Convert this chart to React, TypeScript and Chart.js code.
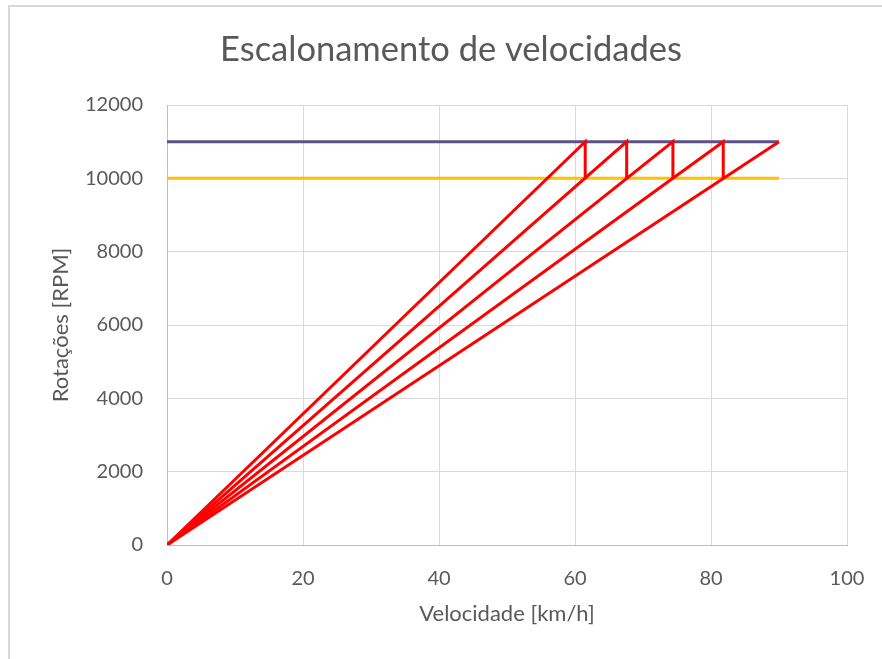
import React, { useEffect, useRef } from "react";
import { Chart, registerables } from "chart.js";

Chart.register(...registerables);

// Data
const gearSpeeds: number[] = [61.5, 67.6, 74.4, 81.8, 90]; // km/h at which each gear reaches max RPM
const maxRpm = 11000;
const shiftRpm = 10000;
const limitStart = 0;
const limitEnd = 90;
const xTicks: number[] = [0, 20, 40, 60, 80, 100];
const yTicks: number[] = [0, 2000, 4000, 6000, 8000, 10000, 12000];

const FONT = "Lato, 'Open Sans', sans-serif";
const TEXT = "#595959";

export default function App() {
  const ref = useRef<HTMLCanvasElement | null>(null);

  useEffect(() => {
    if (!ref.current) return;

    const redSets = gearSpeeds.map((v, i) => {
      const pts = [
        { x: 0, y: 0 },
        { x: v, y: maxRpm },
      ];
      if (i < gearSpeeds.length - 1) pts.push({ x: v, y: shiftRpm });
      return {
        label: `Marcha ${i + 1}`,
        data: pts,
        showLine: true,
        borderColor: "#FF0000",
        backgroundColor: "#FF0000",
        borderWidth: 3,
        pointRadius: 0,
        tension: 0,
        order: 0,
      };
    });

    const framePlugin = {
      id: "frame",
      beforeDraw(chart: any) {
        const ctx = chart.ctx;
        ctx.save();
        ctx.fillStyle = "#ffffff";
        ctx.fillRect(0, 0, chart.width, chart.height);
        ctx.fillStyle = "#d9d9d9";
        ctx.fillRect(8, 5, chart.width - 8, 2);
        ctx.fillRect(8, 5, 2, chart.height - 5);
        ctx.restore();
      },
    };

    const chart = new Chart(ref.current, {
      type: "scatter",
      data: {
        datasets: [
          ...redSets,
          {
            label: "Mínimo",
            data: [
              { x: limitStart, y: shiftRpm },
              { x: limitEnd, y: shiftRpm },
            ],
            showLine: true,
            borderColor: "#FFC000",
            backgroundColor: "#FFC000",
            borderWidth: 3,
            pointRadius: 0,
            order: 1,
          },
          {
            label: "Máximo",
            data: [
              { x: limitStart, y: maxRpm },
              { x: limitEnd, y: maxRpm },
            ],
            showLine: true,
            borderColor: "#5E4F86",
            backgroundColor: "#5E4F86",
            borderWidth: 3,
            pointRadius: 0,
            order: 2,
          },
        ] as any,
      },
      plugins: [framePlugin],
      options: {
        responsive: false,
        animation: false,
        devicePixelRatio: 1,
        layout: { padding: { left: 20, right: 0, top: 0, bottom: 0 } },
        plugins: {
          legend: { display: false },
          tooltip: { enabled: false },
          title: {
            display: true,
            text: "Escalonamento de velocidades",
            color: TEXT,
            font: { family: FONT, size: 34.5, weight: "normal" },
            padding: { top: 29, bottom: 34.6 },
          },
        },
        scales: {
          x: {
            type: "linear",
            min: xTicks[0],
            max: xTicks[xTicks.length - 1],
            afterBuildTicks: (s: any) => {
              s.ticks = xTicks.map((v) => ({ value: v }));
            },
            afterFit: (s: any) => {
              s.height = 114;
              s.paddingLeft = 0;
              s.paddingRight = 0;
            },
            grid: { color: "#d9d9d9", lineWidth: 1, drawTicks: false },
            border: { color: "#bfbfbf", width: 1 },
            ticks: {
              color: TEXT,
              font: { family: FONT, size: 20 },
              padding: 22,
              maxRotation: 0,
              callback: (v: any) => String(v),
            },
            title: {
              display: true,
              text: "Velocidade [km/h]",
              color: TEXT,
              font: { family: FONT, size: 22 },
              padding: { top: 0, bottom: 32 },
            },
          },
          y: {
            type: "linear",
            min: yTicks[0],
            max: yTicks[yTicks.length - 1],
            afterBuildTicks: (s: any) => {
              s.ticks = yTicks.map((v) => ({ value: v }));
            },
            afterFit: (s: any) => {
              s.width = 147;
            },
            grid: { color: "#d9d9d9", lineWidth: 1, drawTicks: false },
            border: { color: "#bfbfbf", width: 1 },
            ticks: {
              color: TEXT,
              font: { family: FONT, size: 20 },
              padding: 24,
              callback: (v: any) => String(v),
            },
            title: {
              display: true,
              text: "Rotações [RPM]",
              color: TEXT,
              font: { family: FONT, size: 22 },
              padding: { top: 28, bottom: 0 },
            },
          },
          y2: {
            type: "linear",
            position: "right",
            display: true,
            afterFit: (s: any) => {
              s.width = 35;
            },
            grid: { display: false, drawTicks: false },
            border: { display: false },
            ticks: { display: false },
          },
        },
      } as any,
    });

    return () => chart.destroy();
  }, []);

  return (
    <div style={{ position: "absolute", left: 0, top: 0, width: 882, height: 659 }}>
      <canvas ref={ref} width={882} height={659} style={{ display: "block" }} />
    </div>
  );
}
